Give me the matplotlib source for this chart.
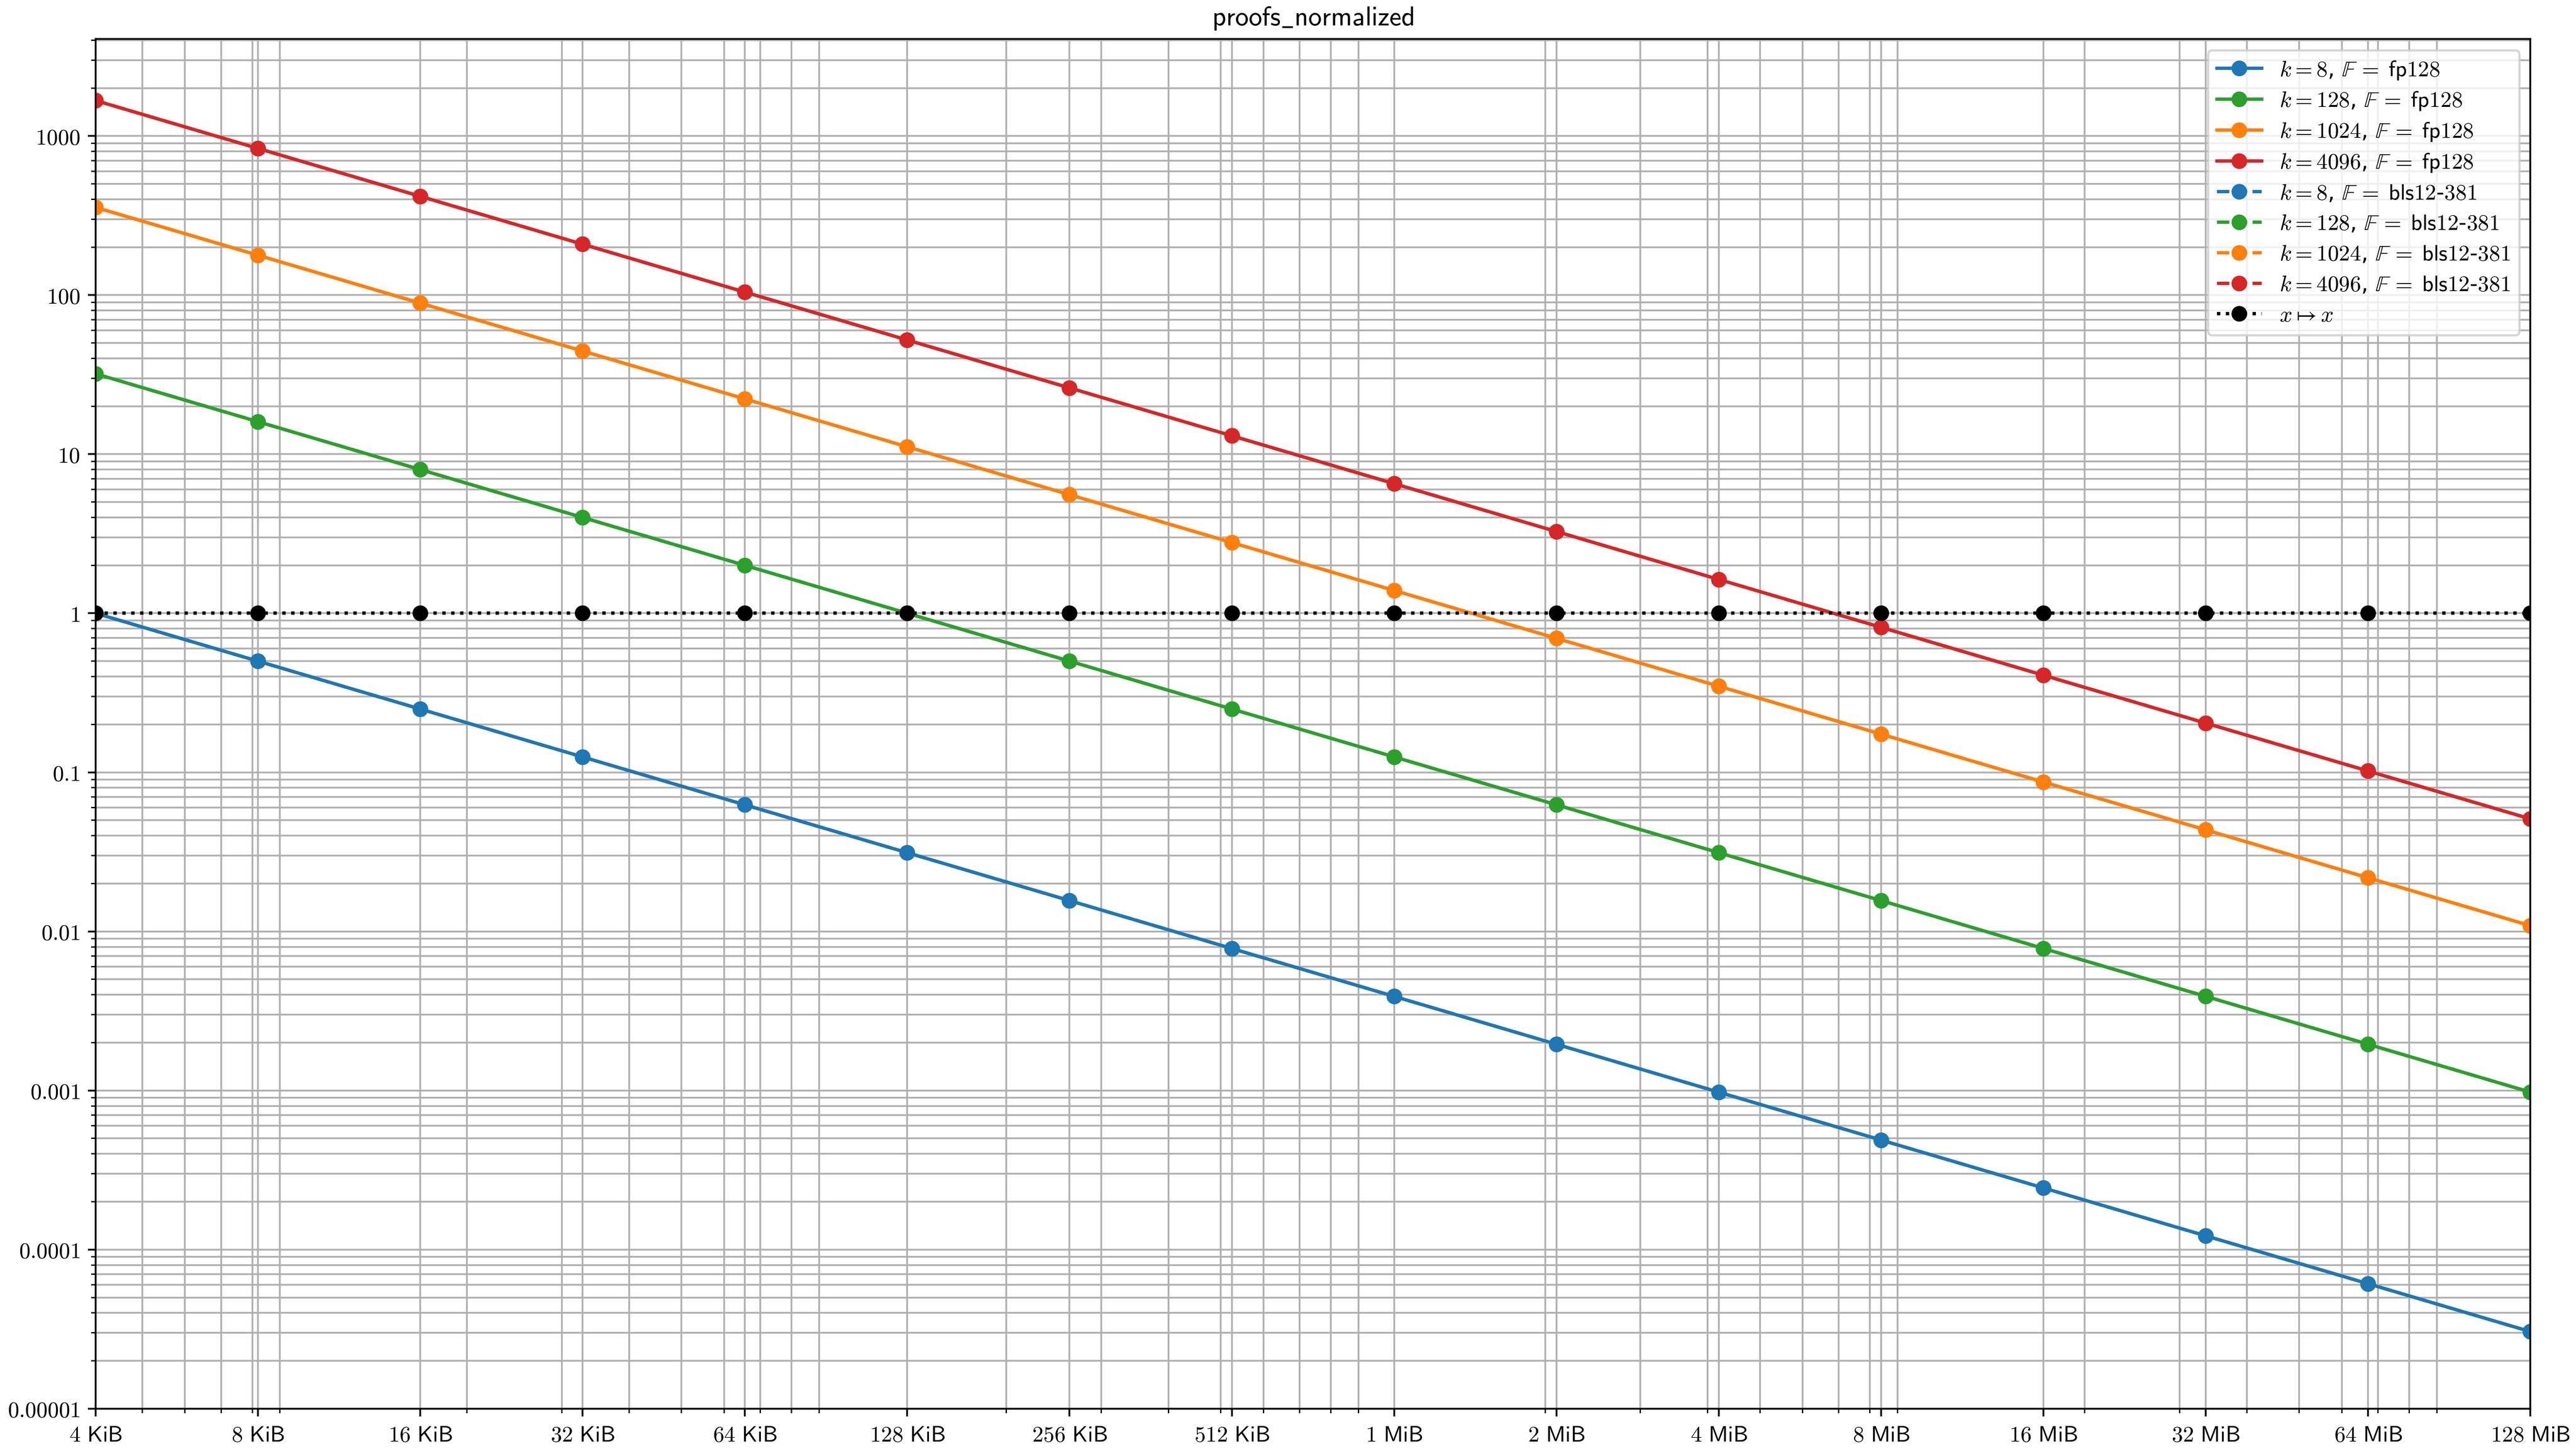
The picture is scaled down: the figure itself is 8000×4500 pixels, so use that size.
import matplotlib
matplotlib.use('Agg')
import matplotlib.pyplot as plt

plt.rcParams['mathtext.fontset'] = 'cm'

# ---- data ----
sizes_bytes = [4096, 8192, 16384, 32768, 65536, 131072, 262144, 524288,
               1048576, 2097152, 4194304, 8388608, 16777216, 33554432,
               67108864, 134217728]
size_labels = ['4 KiB', '8 KiB', '16 KiB', '32 KiB', '64 KiB', '128 KiB',
               '256 KiB', '512 KiB', '1 MiB', '2 MiB', '4 MiB', '8 MiB',
               '16 MiB', '32 MiB', '64 MiB', '128 MiB']

fp128_k8 = [1.0, 0.5, 0.25, 0.125, 0.0625, 0.03125, 0.015625, 0.0078125,
            0.003906, 0.001953, 0.0009766, 0.0004883, 0.0002441, 0.0001221,
            6.104e-05, 3.052e-05]
fp128_k128 = [32.0, 16.0, 8.0, 4.0, 2.0, 1.0, 0.5, 0.25, 0.125, 0.0625,
              0.03125, 0.015625, 0.0078125, 0.003906, 0.001953, 0.0009766]
fp128_k1024 = [356.0, 178.0, 89.0, 44.5, 22.25, 11.125, 5.5625, 2.781,
               1.3906, 0.6953, 0.3477, 0.1738, 0.08691, 0.04346, 0.02173,
               0.010864]
fp128_k4096 = [1670.0, 835.0, 417.5, 208.75, 104.375, 52.19, 26.09, 13.047,
               6.523, 3.262, 1.6309, 0.8154, 0.4077, 0.20386, 0.10193,
               0.05096]

bls_k8 = [1.0, 0.5, 0.25, 0.125, 0.0625, 0.03125, 0.015625, 0.0078125,
          0.003906, 0.001953, 0.0009766, 0.0004883, 0.0002441, 0.0001221,
          6.104e-05, 3.052e-05]
bls_k128 = [32.0, 16.0, 8.0, 4.0, 2.0, 1.0, 0.5, 0.25, 0.125, 0.0625,
            0.03125, 0.015625, 0.0078125, 0.003906, 0.001953, 0.0009766]
bls_k1024 = [356.0, 178.0, 89.0, 44.5, 22.25, 11.125, 5.5625, 2.781,
             1.3906, 0.6953, 0.3477, 0.1738, 0.08691, 0.04346, 0.02173,
             0.010864]
bls_k4096 = [1670.0, 835.0, 417.5, 208.75, 104.375, 52.19, 26.09, 13.047,
             6.523, 3.262, 1.6309, 0.8154, 0.4077, 0.20386, 0.10193,
             0.05096]

identity = [1.0, 1.0, 1.0, 1.0, 1.0, 1.0, 1.0, 1.0, 1.0, 1.0, 1.0, 1.0,
            1.0, 1.0, 1.0, 1.0]

k_values = ['8', '128', '1024', '4096']
k_colors = ['#1f77b4', '#2ca02c', '#ff7f0e', '#d62728']

ytick_values = [1e-5, 1e-4, 1e-3, 1e-2, 1e-1, 1, 10, 100, 1000]
ytick_labels = ['0.00001', '0.0001', '0.001', '0.01', '0.1', '1', '10',
                '100', '1000']

title = 'proofs\\_normalized'

# ---- plot ----
fig = plt.figure(figsize=(16, 9), dpi=500)
ax = fig.add_axes([0.0371, 0.0278, 0.9452, 0.9453])

fp_series = [fp128_k8, fp128_k128, fp128_k1024, fp128_k4096]
bls_series = [bls_k8, bls_k128, bls_k1024, bls_k4096]

for k, c, ys in zip(k_values, k_colors, fp_series):
    ax.plot(sizes_bytes, ys, '-', marker='o', color=c,
            label=r'$k = %s$, $\mathbb{F}\;=\;\mathsf{fp128}$' % k)
for k, c, ys in zip(k_values, k_colors, bls_series):
    ax.plot(sizes_bytes, ys, '--', marker='o', color=c,
            label=r'$k = %s$, $\mathbb{F}\;=\;\mathsf{bls12}$-$\mathsf{381}$' % k)
ax.plot(sizes_bytes, identity, ':', marker='o', color='black',
        label=r'$x \mapsto x$')

ax.set_xscale('log')
ax.set_yscale('log')
ax.set_xlim(sizes_bytes[0], sizes_bytes[-1])
ax.set_ylim(1e-5, 4070)

ax.set_xticks(sizes_bytes, labels=[r'$\mathsf{%s}$' % s.replace(' ', '\\ ')
                                   for s in size_labels])
ax.set_yticks(ytick_values, labels=[r'$\mathsf{%s}$' % s for s in ytick_labels])

ax.grid(True, which='both')
ax.set_axisbelow(True)

ax.set_title(r'$\mathsf{%s}$' % title)
ax.legend(loc='upper right', labelspacing=0.4)

fig.savefig('out.png', dpi=500)
